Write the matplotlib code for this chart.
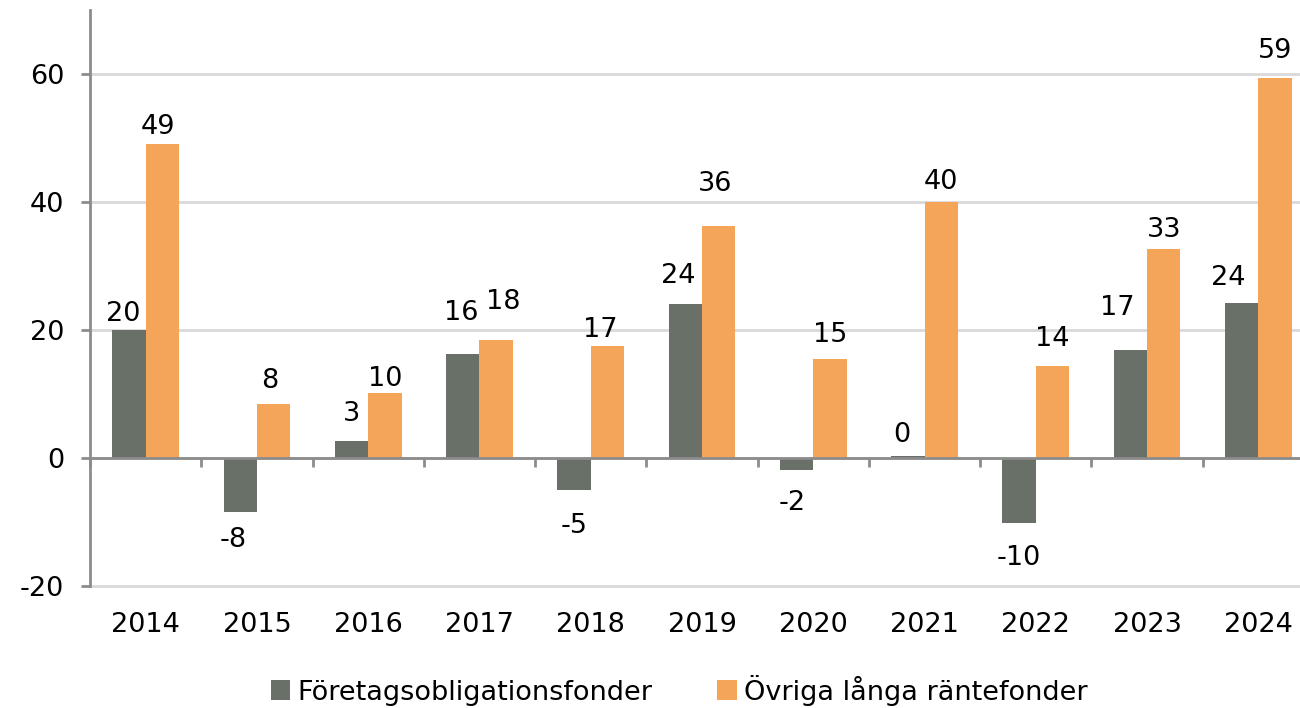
import numpy as np
import matplotlib
matplotlib.use('Agg')
import matplotlib.pyplot as plt

# data
years = ['2014', '2015', '2016', '2017', '2018', '2019',
         '2020', '2021', '2022', '2023', '2024']
foretag = [20.0, -8.5, 2.7, 16.2, -5.0, 24.0, -1.8, 0.3, -10.1, 16.8, 24.2]
ovriga = [49.1, 8.45, 10.2, 18.4, 17.45, 36.2, 15.4, 40.0, 14.4, 32.7, 59.45]
series_names = ['Företagsobligationsfonder', 'Övriga långa räntefonder']

# hand placed value labels in the reference: gap from bar end and sideways shift (pixels)
gap_f = [9, 15, 20, 34, 23, 21, 20, 14, 22, 35, 18]
dx_f = [-6, -7, 0, -2, 0, -7, -4, -6, 0, -13, -13]
gap_o = [10, 16, 7, 31, 9, 35, 17, 13, 20, 12, 20]
dx_o = [-4, -4, 0, 7, -7, -4, 0, 0, 0, 0, 0]

dark = '#687068'
orange = '#F5A55A'
axis_grey = '#8c8c8c'
fs = 19.5
digit_h = 20  # px height of a digit at this size

plt.rcParams['font.family'] = ['DejaVu Sans']
plt.rcParams['axes.unicode_minus'] = False

fig = plt.figure(figsize=(13, 7.08), dpi=100)
# the plot area of the reference runs a little past the right edge of the image
ax = fig.add_axes([90/1300, 122/708, 1224/1300, 576/708])

x = np.arange(len(years))
w = 0.3
b1 = ax.bar(x - w/2, foretag, w, color=dark, label=series_names[0], zorder=3)
b2 = ax.bar(x + w/2, ovriga, w, color=orange, label=series_names[1], zorder=3)

for bars, vals, gaps, dxs in ((b1, foretag, gap_f, dx_f), (b2, ovriga, gap_o, dx_o)):
    for rect, v, g, d in zip(bars, vals, gaps, dxs):
        cx = rect.get_x() + rect.get_width()/2
        dy = g if v >= 0 else -(g + digit_h)
        ax.annotate(f'{v:.0f}', (cx, v), xytext=(d, dy), textcoords='offset pixels',
                    ha='center', va='baseline', fontsize=fs, zorder=5)

ax.set_xlim(-0.5, len(years) - 0.5)
ax.set_ylim(-20, 70)
ax.set_yticks([-20, 0, 20, 40, 60])
ax.yaxis.grid(True, color='#d9d9d9', linewidth=2)
for gl in ax.get_ygridlines():
    gl.set_clip_on(False)
ax.set_axisbelow(True)
ax.tick_params(axis='y', labelsize=fs, length=6.5, width=2, color=axis_grey, pad=12)

ax.set_xticks(x)
ax.set_xticklabels(years)
ax.tick_params(axis='x', labelsize=fs, length=0, pad=19)

for s in ['top', 'right', 'bottom']:
    ax.spines[s].set_visible(False)
ax.spines['left'].set_color(axis_grey)
ax.spines['left'].set_linewidth(2)

# zero line with ticks between the categories
ax.axhline(0, color=axis_grey, linewidth=2, zorder=4)
sec = ax.secondary_xaxis(0, transform=ax.transData)
sec.set_xticks(np.arange(len(years) + 1) - 0.5)
sec.set_xticklabels([])
sec.tick_params(length=6.5, width=2, color=axis_grey)
sec.spines['bottom'].set_visible(False)
sec.set_zorder(4)

fig.legend(handles=[b1, b2], loc='center', bbox_to_anchor=(679/1300, 1 - 690/708),
           ncol=2, frameon=False, fontsize=fs, handlelength=0.73, handleheight=0.73,
           handletextpad=0.25, columnspacing=2.4)

fig.savefig('out.png', dpi=100)
